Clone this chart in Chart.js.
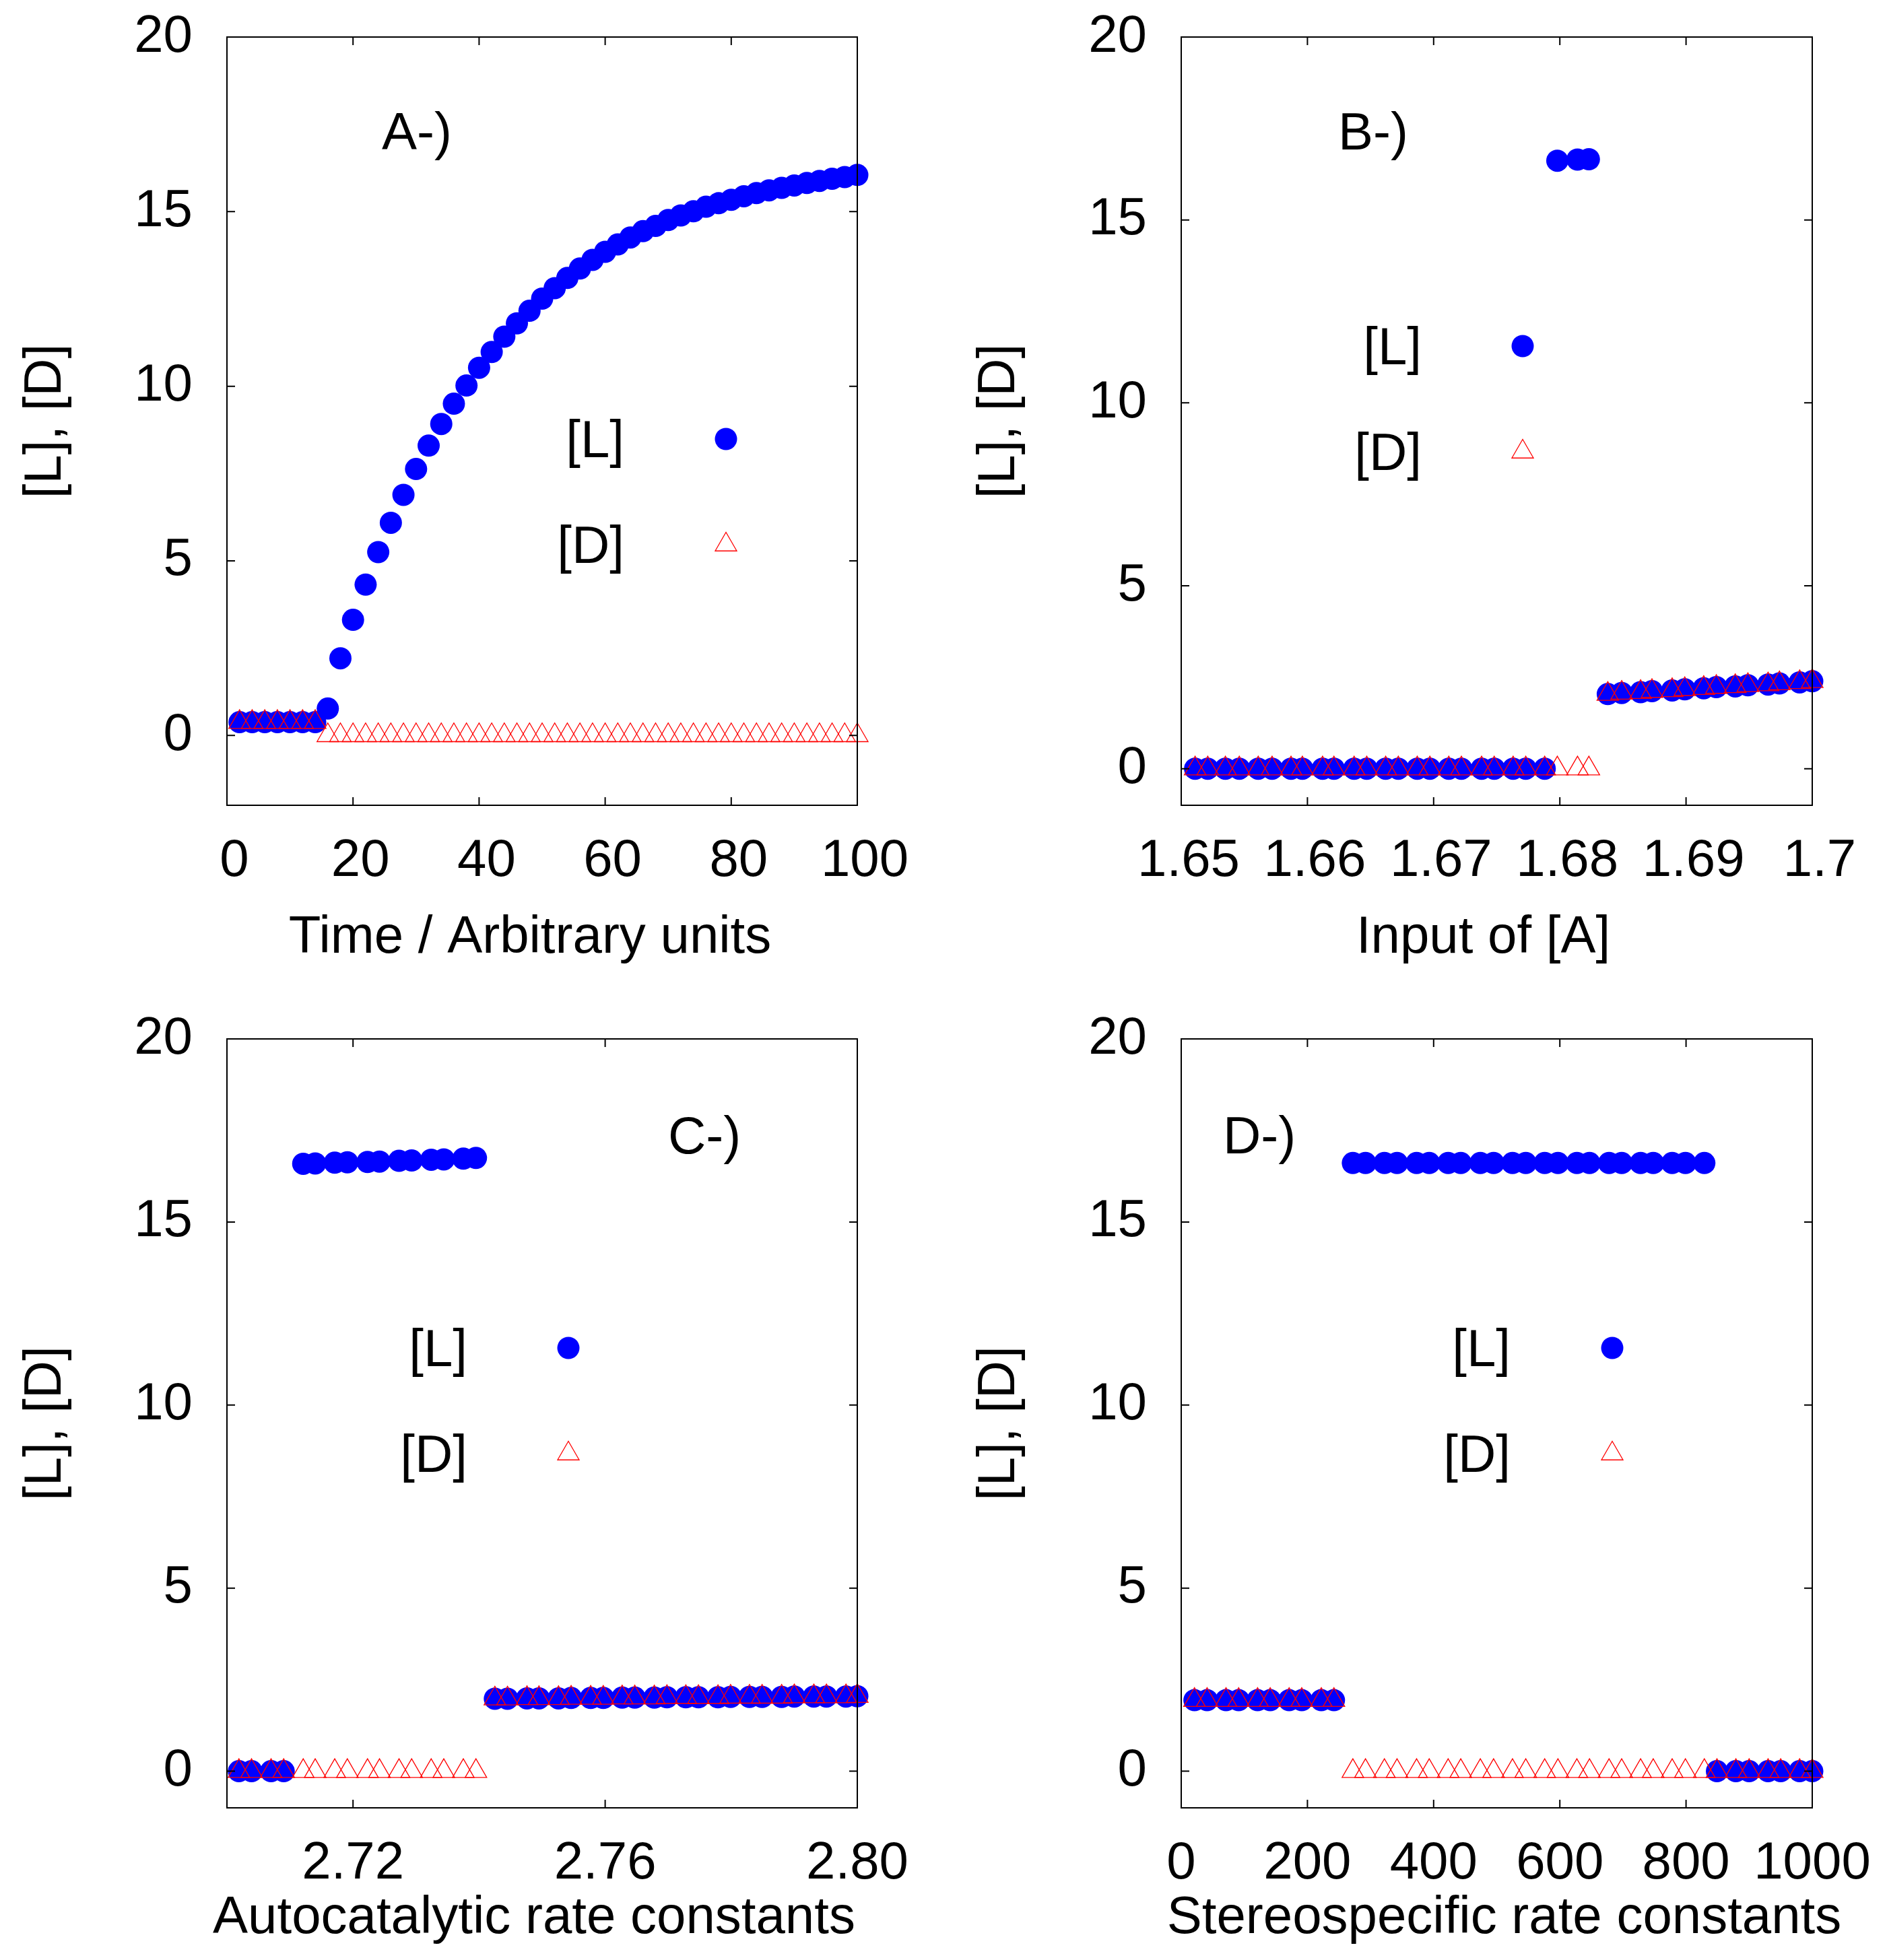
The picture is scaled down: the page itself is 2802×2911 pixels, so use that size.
<!DOCTYPE html>
<html>
<head>
<meta charset="utf-8">
<script src="https://cdn.jsdelivr.net/npm/chart.js@4.4.1/dist/chart.umd.min.js"></script>
<style>
  html, body { margin: 0; padding: 0; background: #fff; }
  canvas { position: absolute; }
</style>
</head>
<body>
<canvas id="pA" width="1401" height="1455" style="left:0;top:0;width:1401px;height:1455px"></canvas>
<canvas id="pB" width="1401" height="1455" style="left:1401px;top:0;width:1401px;height:1455px"></canvas>
<canvas id="pC" width="1401" height="1456" style="left:0;top:1455px;width:1401px;height:1456px"></canvas>
<canvas id="pD" width="1401" height="1456" style="left:1401px;top:1455px;width:1401px;height:1456px"></canvas>
<script>
// A-) time course
const timeX = [2, 4, 6, 8, 10, 12, 14, 16, 18, 20, 22, 24, 26, 28, 30, 32, 34, 36, 38, 40,
  42, 44, 46, 48, 50, 52, 54, 56, 58, 60, 62, 64, 66, 68, 70, 72, 74, 76, 78, 80,
  82, 84, 86, 88, 90, 92, 94, 96, 98, 100];
const timeL = [0.38, 0.38, 0.38, 0.38, 0.38, 0.38, 0.38, 0.77, 2.21, 3.31, 4.32, 5.25, 6.09, 6.89, 7.63, 8.30,
  8.92, 9.50, 10.02, 10.53, 10.98, 11.42, 11.80, 12.16, 12.51, 12.81, 13.10, 13.37, 13.62, 13.85, 14.06, 14.26,
  14.44, 14.59, 14.76, 14.89, 15.01, 15.14, 15.24, 15.34, 15.44, 15.53, 15.61, 15.68, 15.75, 15.82, 15.88, 15.94,
  15.99, 16.05];
const timeD = [0.38, 0.38, 0.38, 0.38, 0.38, 0.38, 0.38, 0, 0, 0, 0, 0, 0, 0, 0, 0,
  0, 0, 0, 0, 0, 0, 0, 0, 0, 0, 0, 0, 0, 0, 0, 0,
  0, 0, 0, 0, 0, 0, 0, 0, 0, 0, 0, 0, 0, 0, 0, 0, 0, 0];

// B-) input of [A]
const inputX = [1.6511, 1.6521, 1.6535, 1.6546, 1.6561, 1.6572, 1.6587, 1.6596, 1.6612, 1.6621,
  1.6637, 1.6647, 1.6662, 1.6672, 1.6687, 1.6697, 1.6712, 1.6722, 1.6738, 1.6748,
  1.6763, 1.6773, 1.6788, 1.6798, 1.6814, 1.6823, 1.6838, 1.6849, 1.6864, 1.6873,
  1.6889, 1.6899, 1.6914, 1.6924, 1.6939, 1.6949, 1.6965, 1.6974, 1.6990, 1.7000];
const inputL = [0, 0, 0, 0, 0, 0, 0, 0, 0, 0, 0, 0, 0, 0, 0, 0, 0, 0, 0, 0, 0, 0, 0,
  16.62, 16.65, 16.66,
  2.04, 2.07, 2.09, 2.12, 2.14, 2.17, 2.20, 2.23, 2.25, 2.28, 2.30, 2.33, 2.36, 2.39];
const inputD = [0, 0, 0, 0, 0, 0, 0, 0, 0, 0, 0, 0, 0, 0, 0, 0, 0, 0, 0, 0, 0, 0, 0,
  0, 0, 0,
  2.04, 2.07, 2.09, 2.12, 2.14, 2.17, 2.20, 2.23, 2.25, 2.28, 2.30, 2.33, 2.36, 2.39];

// C-) autocatalytic rate constants
const autoX = [2.7019, 2.7039, 2.7070, 2.7090, 2.7121, 2.7140, 2.7171, 2.7191, 2.7223, 2.7242,
  2.7273, 2.7293, 2.7324, 2.7344, 2.7375, 2.7395, 2.7425, 2.7445, 2.7476, 2.7495,
  2.7526, 2.7546, 2.7577, 2.7597, 2.7627, 2.7647, 2.7678, 2.7698, 2.7728, 2.7748,
  2.7779, 2.7799, 2.7829, 2.7849, 2.7880, 2.7900, 2.7931, 2.7951, 2.7982, 2.8000];
const autoL = [0, 0, 0, 0,
  16.59, 16.60, 16.62, 16.63, 16.64, 16.65, 16.67, 16.68, 16.70, 16.71, 16.73, 16.75,
  1.98, 1.98, 1.99, 1.99, 1.99, 2.00, 2.00, 2.00, 2.01, 2.01, 2.01, 2.02,
  2.02, 2.02, 2.02, 2.03, 2.03, 2.03, 2.03, 2.04, 2.04, 2.04, 2.04, 2.05];
const autoD = [0, 0, 0, 0,
  0, 0, 0, 0, 0, 0, 0, 0, 0, 0, 0, 0,
  1.98, 1.98, 1.99, 1.99, 1.99, 2.00, 2.00, 2.00, 2.01, 2.01, 2.01, 2.02,
  2.02, 2.02, 2.02, 2.03, 2.03, 2.03, 2.03, 2.04, 2.04, 2.04, 2.04, 2.05];

// D-) stereospecific rate constants
const stereoX = [21, 41, 71, 91, 121, 141, 171, 191, 222, 242,
  272, 292, 322, 342, 373, 393, 423, 443, 474, 495,
  525, 546, 576, 597, 627, 647, 678, 698, 728, 748,
  778, 799, 829, 849, 879, 900, 930, 950, 980, 1000];
const stereoL = [1.94, 1.94, 1.94, 1.94, 1.94, 1.94, 1.94, 1.94, 1.94, 1.94,
  16.61, 16.61, 16.61, 16.61, 16.61, 16.61, 16.61, 16.61, 16.61, 16.61,
  16.61, 16.61, 16.61, 16.61, 16.61, 16.61, 16.61, 16.61, 16.61, 16.61,
  16.61, 16.61, 16.61, 0, 0, 0, 0, 0, 0, 0];
const stereoD = [1.94, 1.94, 1.94, 1.94, 1.94, 1.94, 1.94, 1.94, 1.94, 1.94,
  0, 0, 0, 0, 0, 0, 0, 0, 0, 0, 0, 0, 0, 0, 0, 0, 0, 0, 0, 0,
  0, 0, 0, 0, 0, 0, 0, 0, 0, 0];

// tick values and labels
const yTicks = [0, 5, 10, 15, 20];
const timeTicks = [0, 20, 40, 60, 80, 100];
const timeLabels = ['0', '20', '40', '60', '80', '100'];
const inputTicks = [1.65, 1.66, 1.67, 1.68, 1.69, 1.70];
const inputLabels = ['1.65', '1.66', '1.67', '1.68', '1.69', '1.7'];
const autoTicks = [2.72, 2.76, 2.80];
const autoLabels = ['2.72', '2.76', '2.80'];
const stereoTicks = [0, 200, 400, 600, 800, 1000];
const stereoLabels = ['0', '200', '400', '600', '800', '1000'];

const FONT = 78;
const FAMILY = "'Liberation Sans', Arial, Helvetica, sans-serif";
Chart.defaults.font.family = FAMILY;
Chart.defaults.color = '#000';

// gnuplot-like frame: border, inward ticks on all sides, x title, key and panel tag
const framePlugin = {
  id: 'frame',
  afterDatasetsDraw(chart, args, o) {
    const { ctx, chartArea: a, scales: { x, y } } = chart;
    ctx.save();
    ctx.strokeStyle = '#000';
    ctx.lineWidth = 2;
    ctx.beginPath();
    x.ticks.forEach(t => {
      const px = x.getPixelForValue(t.value);
      ctx.moveTo(px, a.bottom); ctx.lineTo(px, a.bottom - 12);
      ctx.moveTo(px, a.top); ctx.lineTo(px, a.top + 12);
    });
    y.ticks.forEach(t => {
      const py = y.getPixelForValue(t.value);
      ctx.moveTo(a.left, py); ctx.lineTo(a.left + 12, py);
      ctx.moveTo(a.right, py); ctx.lineTo(a.right - 12, py);
    });
    ctx.stroke();
    ctx.strokeRect(a.left, a.top, a.right - a.left, a.bottom - a.top);

    ctx.fillStyle = '#000';
    ctx.font = FONT + 'px ' + FAMILY;
    ctx.textBaseline = 'alphabetic';
    ctx.textAlign = 'center';
    ctx.fillText(o.xTitle, (a.left + a.right) / 2 + o.xTitleDX, a.bottom + o.xTitleY);

    ctx.textAlign = 'left';
    ctx.fillText(o.tag, a.left + o.tagX, a.top + o.tagY);

    ctx.textAlign = 'right';
    ctx.fillText('[L]', a.left + o.keyText, a.top + o.keyY + 27);
    ctx.fillText('[D]', a.left + o.keyText, a.top + o.keyY + 157 + 27);

    const sx = a.left + o.keySym;
    ctx.fillStyle = '#0000ff';
    ctx.beginPath();
    ctx.arc(sx, a.top + o.keyY, 16.5, 0, Math.PI * 2);
    ctx.fill();
    const ty = a.top + o.keyY + 157, r = 18.5;
    ctx.strokeStyle = '#ff0000';
    ctx.lineWidth = 1.3;
    ctx.beginPath();
    ctx.moveTo(sx, ty - r);
    ctx.lineTo(sx + r * 0.866, ty + r / 2);
    ctx.lineTo(sx - r * 0.866, ty + r / 2);
    ctx.closePath();
    ctx.stroke();
    ctx.restore();
  }
};

function panel(id, p) {
  const pts = (xs, ys) => xs.map((v, i) => ({ x: v, y: ys[i] }));
  new Chart(document.getElementById(id), {
    type: 'scatter',
    data: {
      datasets: [
        { label: '[L]', data: pts(p.xs, p.L), pointStyle: 'circle', pointRadius: 16.5,
          backgroundColor: '#0000ff', borderWidth: 0, order: 2, clip: false },
        { label: '[D]', data: pts(p.xs, p.D), pointStyle: 'triangle', pointRadius: 18.5,
          backgroundColor: 'rgba(0,0,0,0)', borderColor: '#ff0000', borderWidth: 1.3, order: 1, clip: false }
      ]
    },
    options: {
      responsive: false,
      devicePixelRatio: 1,
      animation: false,
      events: [],
      layout: { padding: { left: 0, top: p.top, right: p.right, bottom: 0 } },
      plugins: {
        legend: { display: false },
        tooltip: { enabled: false },
        frame: { tag: p.tag, tagX: p.tagX, tagY: p.tagY, keyText: p.keyText, keySym: p.keySym, keyY: p.keyY,
          xTitle: p.xTitle, xTitleDX: p.xTitleDX, xTitleY: p.xTitleY }
      },
      scales: {
        x: {
          type: 'linear', min: p.xMin, max: p.xMax,
          afterBuildTicks: s => { s.ticks = p.xTicks.map(v => ({ value: v })); },
          afterFit: s => { s.height = p.bottomH; s.paddingLeft = 0; s.paddingRight = 0; },
          grid: { display: false, drawTicks: false },
          border: { display: false },
          ticks: { autoSkip: false, maxRotation: 0, padding: 37, labelOffset: p.labelShift,
            font: { size: FONT }, callback: (v, i) => p.xLabels[i] }
        },
        y: {
          min: p.yMin, max: 20,
          afterBuildTicks: s => { s.ticks = yTicks.map(v => ({ value: v })); },
          afterFit: s => { s.width = p.left; s.paddingTop = 0; s.paddingBottom = 0; },
          grid: { display: false, drawTicks: false },
          border: { display: false },
          ticks: { autoSkip: false, padding: 51, font: { size: FONT } },
          title: { display: true, text: '[L], [D]', font: { size: FONT, lineHeight: 1.2 },
            padding: { top: p.yTitlePad, bottom: 0 } }
        }
      }
    },
    plugins: [framePlugin]
  });
}

panel('pA', { xs: timeX, L: timeL, D: timeD, xMin: 0, xMax: 100, yMin: -2,
  xTicks: timeTicks, xLabels: timeLabels, labelShift: 11,
  xTitle: 'Time / Arbitrary units', xTitleDX: -18, xTitleY: 219,
  left: 337, right: 128, top: 55, bottomH: 259, yTitlePad: 22,
  tag: 'A-)', tagX: 230, tagY: 167, keyText: 590, keySym: 741, keyY: 597 });

panel('pB', { xs: inputX, L: inputL, D: inputD, xMin: 1.65, xMax: 1.70, yMin: -1,
  xTicks: inputTicks, xLabels: inputLabels, labelShift: 11,
  xTitle: 'Input of [A]', xTitleDX: -20, xTitleY: 219,
  left: 353, right: 111, top: 55, bottomH: 259, yTitlePad: 37,
  tag: 'B-)', tagX: 233, tagY: 167, keyText: 357, keySym: 507, keyY: 459 });

panel('pC', { xs: autoX, L: autoL, D: autoD, xMin: 2.70, xMax: 2.80, yMin: -1,
  xTicks: autoTicks, xLabels: autoLabels, labelShift: 0,
  xTitle: 'Autocatalytic rate constants', xTitleDX: -12, xTitleY: 186,
  left: 337, right: 128, top: 88, bottomH: 226, yTitlePad: 22,
  tag: 'C-)', tagX: 655, tagY: 170, keyText: 357, keySym: 507, keyY: 459 });

panel('pD', { xs: stereoX, L: stereoL, D: stereoD, xMin: 0, xMax: 1000, yMin: -1,
  xTicks: stereoTicks, xLabels: stereoLabels, labelShift: 0,
  xTitle: 'Stereospecific rate constants', xTitleDX: 11, xTitleY: 186,
  left: 353, right: 111, top: 88, bottomH: 226, yTitlePad: 37,
  tag: 'D-)', tagX: 62, tagY: 170, keyText: 489, keySym: 640, keyY: 459 });
</script>
</body>
</html>
